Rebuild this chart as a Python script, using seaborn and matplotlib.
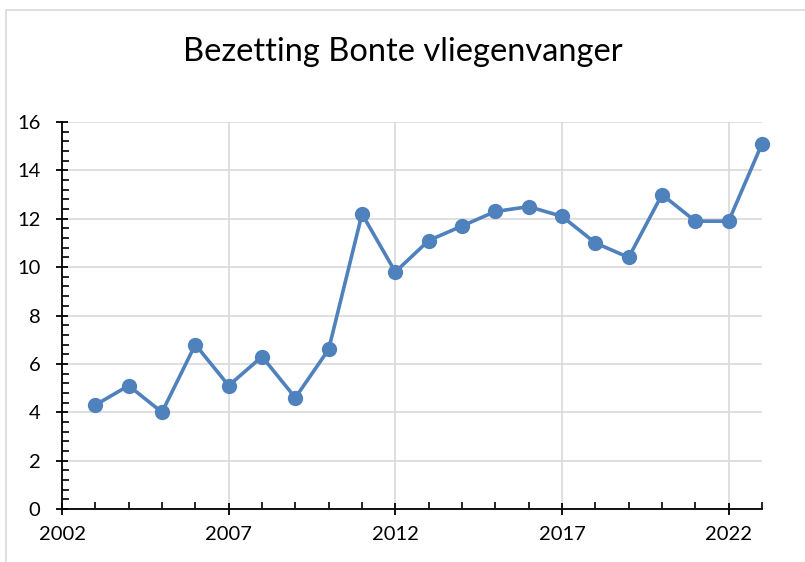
import matplotlib
matplotlib.use('Agg')
import matplotlib.pyplot as plt
import seaborn as sns
import pandas as pd
from matplotlib.ticker import MultipleLocator

# Data
years = [2003, 2004, 2005, 2006, 2007, 2008, 2009, 2010, 2011, 2012, 2013,
         2014, 2015, 2016, 2017, 2018, 2019, 2020, 2021, 2022, 2023]
bezetting = [4.3, 5.1, 4.0, 6.8, 5.1, 6.3, 4.6, 6.6, 12.2, 9.8, 11.1,
             11.7, 12.3, 12.5, 12.1, 11.0, 10.4, 13.0, 11.9, 11.9, 15.1]
x_ticks = [2002, 2007, 2012, 2017, 2022]
df = pd.DataFrame({'Jaar': years, 'Bezetting': bezetting})

sns.set_style('white')
plt.rcParams['font.family'] = ['Lato', 'DejaVu Sans']

fig = plt.figure(figsize=(8.05, 5.62), dpi=100)
ax = fig.add_axes([62 / 805, 1 - 509 / 562, 700 / 805, 387 / 562])

sns.lineplot(data=df, x='Jaar', y='Bezetting', ax=ax, color='#4F81BD',
             linewidth=2.6, marker='o', markersize=11, markeredgewidth=0,
             zorder=3, clip_on=False)

ax.set_xlim(2002, 2023)
ax.set_ylim(0, 16)
ax.set_xticks(x_ticks)
ax.xaxis.set_minor_locator(MultipleLocator(1))
ax.yaxis.set_major_locator(MultipleLocator(2))
ax.yaxis.set_minor_locator(MultipleLocator(0.4))
ax.grid(True, which='major', color='#D9D9D9', linewidth=1.2, zorder=0)
ax.set_axisbelow(True)

for side in ['top', 'right']:
    ax.spines[side].set_visible(False)
for side in ['left', 'bottom']:
    ax.spines[side].set_color('black')
    ax.spines[side].set_linewidth(1.3)

ax.tick_params(which='both', bottom=True, left=True, top=False, right=False)
ax.tick_params(which='major', direction='inout', length=9, width=1.3,
               colors='black', labelsize=14.5)
ax.tick_params(axis='x', which='major', pad=8)
ax.tick_params(axis='y', which='major', pad=11)
ax.tick_params(which='minor', direction='in', length=5, width=1.2,
               colors='black')
ax.set_xlabel('')
ax.set_ylabel('')

fig.text(0.5, 1 - 52 / 562, 'Bezetting Bonte vliegenvanger', ha='center',
         va='center', fontsize=23.5, color='black')

# Light chart-area frame
fig.add_artist(plt.Line2D([6 / 805, 6 / 805], [0, 1 - 10 / 562],
                          transform=fig.transFigure, color='#D9D9D9', lw=1.2))
fig.add_artist(plt.Line2D([6 / 805, 1], [1 - 10 / 562, 1 - 10 / 562],
                          transform=fig.transFigure, color='#D9D9D9', lw=1.2))

fig.savefig('out.png', dpi=100)
